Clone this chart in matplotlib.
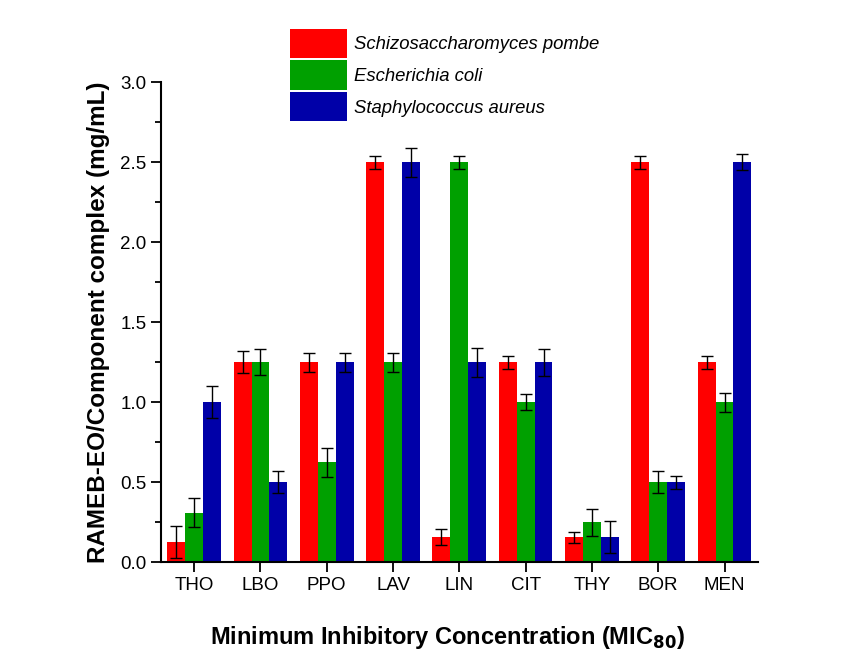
import numpy as np
import matplotlib.pyplot as plt

plt.rcParams['font.family'] = ['Liberation Sans', 'DejaVu Sans']

# Data
kategori = ['THO', 'LBO', 'PPO', 'LAV', 'LIN', 'CIT', 'THY', 'BOR', 'MEN']
spesies = ['Schizosaccharomyces pombe', 'Escherichia coli', 'Staphylococcus aureus']
warna = ['#FF0000', '#00A000', '#0000A8']

pombe = [0.125, 1.25, 1.25, 2.5, 0.156, 1.25, 0.156, 2.5, 1.25]
coli = [0.31, 1.25, 0.625, 1.25, 2.5, 1.0, 0.25, 0.5, 1.0]
aureus = [1.0, 0.5, 1.25, 2.5, 1.25, 1.25, 0.156, 0.5, 2.5]

err_pombe = [0.10, 0.07, 0.06, 0.04, 0.05, 0.04, 0.033, 0.04, 0.04]
err_coli = [0.09, 0.08, 0.09, 0.06, 0.04, 0.05, 0.085, 0.07, 0.06]
err_aureus = [0.10, 0.07, 0.06, 0.09, 0.09, 0.085, 0.10, 0.04, 0.05]

nilai = [pombe, coli, aureus]
galat = [err_pombe, err_coli, err_aureus]

# Plot
fig = plt.figure(figsize=(8.61, 6.63), dpi=100)
ax = fig.add_axes([0.187, 0.152, 0.693, 0.724])

x = np.arange(len(kategori))
lebar = 0.27
for k in range(3):
    ax.bar(x + (k - 1) * lebar, nilai[k], lebar, color=warna[k], label=spesies[k],
           yerr=galat[k], capsize=4,
           error_kw=dict(ecolor='black', elinewidth=1, capthick=1))

ax.set_xlim(-0.5, 8.5)
ax.set_ylim(0, 3.0)
ax.set_xticks(x)
ax.set_xticklabels(kategori)
ax.set_yticks(np.arange(0, 3.01, 0.5))
ax.set_yticks(np.arange(0.25, 3.0, 0.5), minor=True)
ax.set_yticklabels([f'{v:.1f}' for v in np.arange(0, 3.01, 0.5)])

for s in ['top', 'right']:
    ax.spines[s].set_visible(False)
for s in ['left', 'bottom']:
    ax.spines[s].set_linewidth(1.5)
ax.tick_params(axis='both', which='major', direction='out', length=7, width=1.3,
               labelsize=13.5)
ax.tick_params(axis='y', which='minor', direction='out', length=4, width=1.3)

ax.set_xlabel('Minimum Inhibitory Concentration (MIC$_{\\mathbf{80}}$)',
              fontsize=17, fontweight='bold')
ax.xaxis.set_label_coords(0.48, -0.128, transform=ax.transAxes)
ax.xaxis.label.set_verticalalignment('top')
ax.set_ylabel('RAMEB-EO/Component complex (mg/mL)', fontsize=17.5,
              fontweight='bold', labelpad=7)

leg = fig.legend(loc='upper left', bbox_to_anchor=(0.337, 0.957), frameon=False,
                 fontsize=13.3, handlelength=3.07, handleheight=2.05,
                 labelspacing=0.15, handletextpad=0.4, borderpad=0,
                 borderaxespad=0)
for t in leg.get_texts():
    t.set_fontstyle('italic')

plt.savefig('out.png', dpi=100)
